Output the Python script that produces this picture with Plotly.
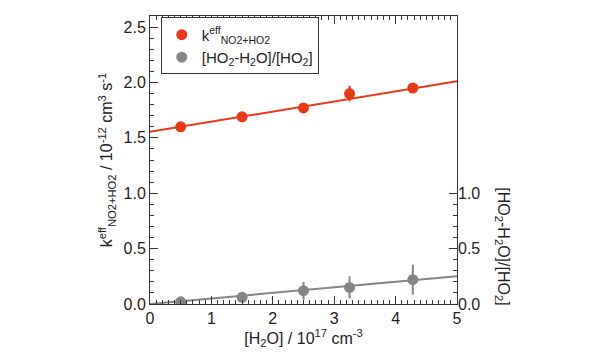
import plotly.graph_objects as go

# Data
h2o = [0.5, 1.5, 2.5, 3.25, 4.28]
k_eff = [1.60, 1.69, 1.77, 1.90, 1.95]
k_err = [0.02, 0.02, 0.02, 0.07, 0.02]
ratio = [0.02, 0.06, 0.12, 0.15, 0.22]
ratio_err = [0.01, 0.02, 0.08, 0.10, 0.135]
fit_x = [0, 5]
fit_k = [1.555, 2.01]
fit_ratio = [0.0, 0.25]

red = "#e8381a"
gray = "#858585"
axcol = "#333333"
font = "Liberation Sans, Arial, sans-serif"

fig = go.Figure()
fig.add_trace(go.Scatter(x=fit_x, y=fit_k, mode="lines", line=dict(color=red, width=2),
                         showlegend=False, hoverinfo="skip"))
fig.add_trace(go.Scatter(x=h2o, y=k_eff, mode="markers", name="k<sup>eff</sup><sub>NO2+HO2</sub>",
                         marker=dict(color=red, size=11),
                         error_y=dict(type="data", array=k_err, color=red, thickness=2, width=0)))
fig.add_trace(go.Scatter(x=fit_x, y=fit_ratio, mode="lines", line=dict(color=gray, width=2),
                         showlegend=False, hoverinfo="skip", yaxis="y2"))
fig.add_trace(go.Scatter(x=h2o, y=ratio, mode="markers", name="[HO<sub>2</sub>-H<sub>2</sub>O]/[HO<sub>2</sub>]",
                         marker=dict(color=gray, size=11), yaxis="y2",
                         error_y=dict(type="data", array=ratio_err, color=gray, thickness=2, width=0)))

fig.update_layout(
    width=592, height=352,
    margin=dict(l=142, r=143, t=8, b=56, autoexpand=False),
    paper_bgcolor="white", plot_bgcolor="white",
    font=dict(family=font, size=16, color="#222222"),
    showlegend=True,
    legend=dict(x=0.035, y=0.995, xanchor="left", yanchor="top",
                bordercolor=axcol, borderwidth=1, bgcolor="white",
                font=dict(size=15), itemwidth=30, tracegroupgap=0),
    xaxis=dict(range=[0, 5], dtick=1, tick0=0, showgrid=False, zeroline=False, automargin=False,
               showline=True, linecolor=axcol, linewidth=1, mirror="ticks",
               ticks="inside", ticklen=8, tickcolor=axcol,
               minor=dict(dtick=0.1, ticks="inside", ticklen=4, tickcolor=axcol, showgrid=False),
               title=dict(text="[H<sub>2</sub>O] / 10<sup>17</sup> cm<sup>-3</sup>", standoff=2,
                          font=dict(size=16))),
    yaxis=dict(range=[0, 2.6], dtick=0.5, tick0=0, tickformat=".1f", showgrid=False, zeroline=False,
               automargin=False,
               showline=True, linecolor=axcol, linewidth=1, mirror=True,
               ticks="inside", ticklen=8, tickcolor=axcol,
               minor=dict(dtick=0.1, ticks="inside", ticklen=4, tickcolor=axcol, showgrid=False),
               title=dict(text="k<sup>eff</sup><sub>NO2+HO2</sub> / 10<sup>-12</sup> cm<sup>3</sup> s<sup>-1</sup>",
                          standoff=6, font=dict(size=16))),
    yaxis2=dict(range=[0, 2.6], overlaying="y", side="right", anchor="x", automargin=False,
                tickmode="array", tickvals=[0, 0.5, 1.0], ticktext=["0.0", "0.5", "1.0"],
                showgrid=False, zeroline=False, showline=False,
                ticks="inside", ticklen=8, tickcolor=axcol,
                minor=dict(tickmode="array", tickvals=[0.1, 0.2, 0.3, 0.4, 0.6, 0.7, 0.8, 0.9],
                           ticks="inside", ticklen=4, tickcolor=axcol, showgrid=False)),
    annotations=[dict(text="[HO<sub>2</sub>-H<sub>2</sub>O]/[HO<sub>2</sub>]", textangle=90,
                      xref="paper", yref="paper", x=1.15, y=0.2, xanchor="center", yanchor="middle",
                      showarrow=False, font=dict(size=16))],
)

fig.write_html("out.html")
